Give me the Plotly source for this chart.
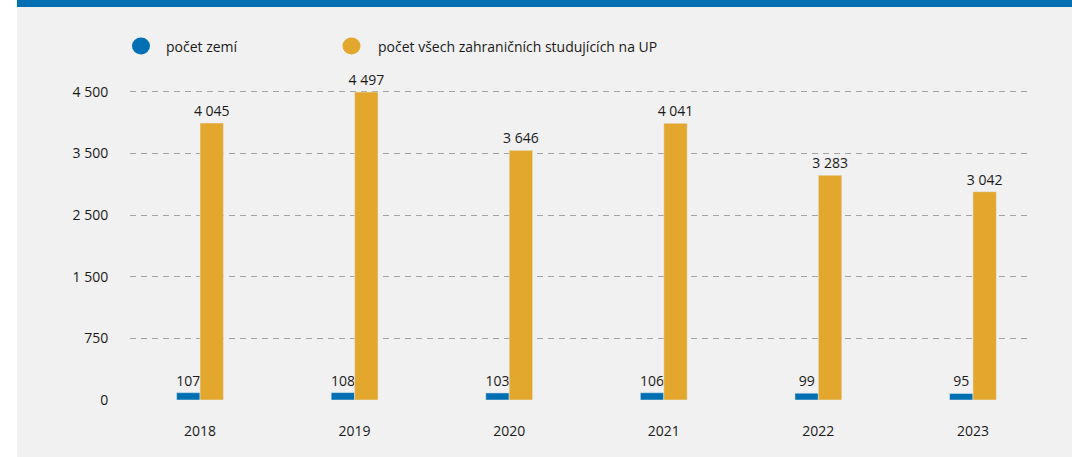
import plotly.graph_objects as go

years = ["2018", "2019", "2020", "2021", "2022", "2023"]
pocet_zemi = [107, 108, 103, 106, 99, 95]
pocet_studujicich = [4045, 4497, 3646, 4041, 3283, 3042]

# popisky osy y jsou v originale rovnomerne rozlozene, i kdyz hodnoty nejsou
ytick_vals = [0, 900, 1800, 2700, 3600, 4500]
ytick_text = ["0", "750", "1 500", "2 500", "3 500", "4 500"]

legend_names = ["počet zemí", "počet všech zahraničních studujících na UP"]

BLUE = "#0070b2"
ORANGE = "#e3a72d"
PANEL = "#f1f1f1"
FONT = "Open Sans"
TEXT = "#1a1a1a"

fig = go.Figure()

fig.add_trace(go.Bar(
    x=years, y=pocet_zemi, name=legend_names[0], marker_color=BLUE,
    texttemplate="%{y:,}", textposition="outside", cliponaxis=False,
    constraintext="none", textfont=dict(size=14, color=TEXT), showlegend=False,
))
fig.add_trace(go.Bar(
    x=years, y=pocet_studujicich, name=legend_names[1], marker_color=ORANGE,
    texttemplate="%{y:,}", textposition="outside", cliponaxis=False,
    constraintext="none", textfont=dict(size=14, color=TEXT), showlegend=False,
))

# bily okraj vlevo a modry pruh nahore
shapes = [
    dict(type="rect", xref="paper", yref="paper", x0=-0.2, x1=-0.1256,
         y0=-0.2, y1=1.3, fillcolor="white", line_width=0, layer="below"),
    dict(type="rect", xref="paper", yref="paper", x0=-0.1256, x1=1.1,
         y0=1.2476, y1=1.3, fillcolor=BLUE, line_width=0, layer="below"),
]
# vlastni legenda - kolecka + text
annotations = []
for name, color, xm, xt in [(legend_names[0], BLUE, 0.0122, 0.0378),
                            (legend_names[1], ORANGE, 0.2461, 0.2733)]:
    shapes.append(dict(
        type="circle", xref="paper", yref="paper",
        xsizemode="pixel", ysizemode="pixel", xanchor=xm, yanchor=1.1238,
        x0=-9, x1=9, y0=-8.5, y1=8.5, fillcolor=color, line_width=0,
    ))
    annotations.append(dict(
        text=name, xref="paper", yref="paper", x=xt, y=1.1238,
        xanchor="left", yanchor="middle", showarrow=False,
        font=dict(size=14, color=TEXT),
    ))

fig.update_layout(
    width=1072, height=457,
    margin=dict(l=130, r=42, t=85, b=57),
    paper_bgcolor=PANEL,
    plot_bgcolor=PANEL,
    separators=", ",
    font=dict(family=FONT, size=14, color=TEXT),
    barmode="group",
    bargap=0.697,
    bargroupgap=0,
    showlegend=False,
    shapes=shapes,
    annotations=annotations,
)

fig.update_xaxes(
    type="category", range=[-0.453, 5.369], showgrid=False, zeroline=False,
    showline=False, ticks="outside", ticklen=18, tickcolor="rgba(0,0,0,0)",
    tickfont=dict(size=14),
)
fig.update_yaxes(
    range=[0, 4600], tickvals=ytick_vals, ticktext=ytick_text,
    showgrid=True, gridcolor="#a3a3a3", griddash="6px,5px", gridwidth=1.2,
    zeroline=False, showline=False, ticks="outside", ticklen=18,
    tickcolor="rgba(0,0,0,0)", tickfont=dict(size=14),
)

fig.write_html(
    "out.html",
    config={"displayModeBar": False},
    post_script=(
        "document.documentElement.style.overflow='hidden';"
        "document.documentElement.style.background='#f1f1f1';"
        "document.body.style.margin='0';"
        "document.body.style.overflow='hidden';"
    ),
)
